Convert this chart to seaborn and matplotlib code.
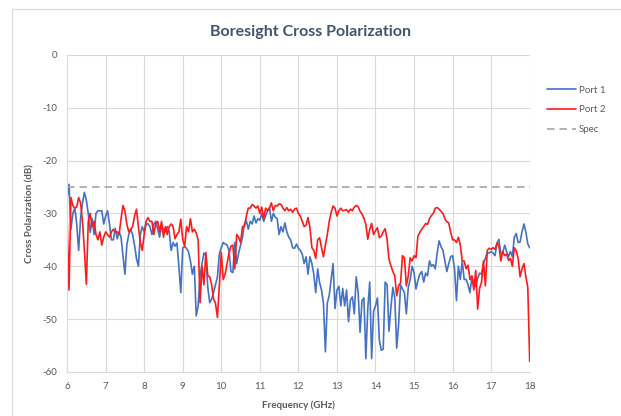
import numpy as np
import pandas as pd
import matplotlib
matplotlib.use("Agg")
import matplotlib.pyplot as plt
import seaborn as sns
from matplotlib.lines import Line2D

# frequency grid, 6 to 18 GHz in 0.05 GHz steps
freq = np.round(np.arange(6.0, 18.001, 0.05), 2)

# values (dB)
port1 = [
    -27, -24.5, -33, -30, -29, -32, -37, -31, -28, -26,
    -27.5, -30, -33.6, -31, -34, -30, -29.5, -29.5, -29.5, -32,
    -30.5, -29.5, -32, -35, -35, -32.8, -34.8, -33.5, -34.5, -38,
    -41.5, -36, -34, -33, -34, -36, -38.5, -40, -34, -32.5,
    -33.5, -32, -32, -32.5, -34, -32, -31.5, -33, -34.5, -32.5,
    -33, -33.5, -32.5, -33.5, -37, -35.5, -36.2, -35.6, -40, -45,
    -36.5, -36.3, -36.6, -37.3, -39, -41.5, -40, -49.4, -47.5, -41.8,
    -39.5, -37.5, -38, -44, -46.9, -46.2, -45, -43.5, -42, -37.7,
    -36.5, -35.5, -35.8, -36, -37, -41, -41.2, -35.5, -39.5, -37.5,
    -36, -34.5, -32, -31.4, -33, -31.5, -32, -30.5, -31.8, -31,
    -31.3, -30, -31.5, -30.5, -29.5, -28.9, -31.5, -30, -30.7, -31,
    -34, -32.5, -33.5, -31.8, -33.5, -34.5, -35, -36.5, -36.6, -35.8,
    -36.6, -37, -37.7, -39.5, -38.2, -41.5, -38.2, -39.5, -41.5, -45,
    -40.5, -43.1, -44.5, -47, -56.2, -47, -45.5, -42.5, -39.5, -48,
    -44.5, -43.8, -47.5, -44.2, -47.5, -44.5, -50.5, -46.4, -45.8, -49,
    -42, -45, -52.5, -46.5, -46, -57.5, -48, -43, -57.5, -48.5,
    -47.5, -46, -54, -55.9, -55.7, -43, -43.5, -52.3, -47.8, -44,
    -46, -55.5, -51, -43.5, -44.3, -45, -49, -44, -42.5, -40,
    -41.2, -44.3, -42.7, -41.5, -41, -43, -41.3, -41.8, -39, -40,
    -39.7, -40.5, -37.5, -35.2, -36.3, -37, -39, -41, -39.5, -38.2,
    -38, -40.5, -46.5, -40, -42.5, -39, -42.5, -42.5, -43.5, -45,
    -42, -43.5, -43.8, -42.3, -41.3, -41.5, -39.5, -38.5, -37.4, -37.5,
    -37.2, -37.5, -38, -35.8, -34.9, -37.5, -37.5, -36, -37.2, -38.2,
    -37.2, -38.2, -34.5, -33.8, -35.5, -35.4, -33.5, -32, -33.5, -35.8,
    -36.5,
]
port2 = [
    -30.8, -44.5, -27, -28.5, -29, -28.8, -27, -28, -31.5, -37,
    -43.4, -31.5, -30, -32.5, -31.5, -34, -35, -33.5, -36, -34.5,
    -33.5, -34, -34.5, -33.5, -33, -33.5, -33.5, -34, -31, -28.5,
    -29.5, -32, -33.5, -33, -32.5, -30.5, -29.2, -32.5, -35.5, -37,
    -34, -31.5, -30.8, -31.5, -31.5, -34, -32, -31.5, -33.5, -31.5,
    -34.5, -32.5, -34, -32.5, -32, -32.5, -34.8, -34, -33.5, -31.1,
    -35, -36.2, -32.5, -33.5, -31, -33.5, -33, -33.7, -35, -46.9,
    -40, -43.5, -37.4, -41.8, -42, -43.5, -46.2, -47, -49.7, -43.5,
    -37.4, -42.5, -41.5, -39.5, -37.5, -36.2, -36, -40.5, -34, -34.5,
    -35.5, -32.5, -32.5, -30.5, -29, -29, -28.3, -28.6, -29, -28.6,
    -30, -28.8, -31, -29, -29.5, -29, -28, -29.5, -28.5, -28.6,
    -28.2, -28.3, -29, -29.5, -28.9, -29.5, -29.2, -29.8, -29.2, -29,
    -30, -30.5, -31.5, -32.5, -32.2, -30.8, -32.7, -36.5, -37, -38.5,
    -35, -34.6, -36.5, -38.2, -36, -34, -31.5, -29.8, -28.6, -29,
    -30.5, -29.5, -29, -29.5, -29.4, -29.3, -29.8, -29.2, -29.5, -28.8,
    -28.5, -28.7, -29.6, -30.1, -30.9, -32.1, -34.9, -33, -31.9, -34,
    -33.3, -32.7, -34.6, -34.3, -33.5, -32.9, -34.9, -38.7, -39.9, -41,
    -41.8, -45.6, -43.7, -43.1, -38, -38.4, -43.7, -41.8, -38.4, -39,
    -38, -38.4, -34.3, -33.6, -33, -32.5, -31.9, -32.1, -31, -30.4,
    -30, -29, -28.9, -29.2, -29.6, -30, -31, -31.6, -31.8, -33.6,
    -35, -35, -35.5, -34.5, -36, -39, -39, -40.5, -39.8, -42.5,
    -41.8, -44.5, -40.8, -48.1, -44.2, -43, -39, -43.7, -37, -36.6,
    -36.8, -36.5, -36.8, -35.6, -36.1, -39, -37.2, -38, -37.7, -38.9,
    -38.5, -40, -36.5, -37.1, -38.5, -42, -40.5, -39.5, -42, -44,
    -58,
]
spec_level = -25

series_names = ["Port 1", "Port 2", "Spec"]
colors = {"Port 1": "#4472C4", "Port 2": "#FF1A1A", "Spec": "#A5A5A5"}

df = pd.concat([
    pd.DataFrame({"freq": freq, "db": port1, "series": "Port 1"}),
    pd.DataFrame({"freq": freq, "db": port2, "series": "Port 2"}),
    pd.DataFrame({"freq": freq, "db": [spec_level] * len(freq), "series": "Spec"}),
])

sns.set_theme(style="white")
plt.rcParams["font.family"] = ["Lato", "DejaVu Sans"]
plt.rcParams["axes.unicode_minus"] = False

fig = plt.figure(figsize=(6.21, 4.16), dpi=100)
ax = fig.add_axes([0.108, 0.106, 0.745, 0.762])

sns.lineplot(data=df, x="freq", y="db", hue="series", style="series",
             hue_order=series_names, style_order=series_names,
             palette=colors, dashes={"Port 1": "", "Port 2": "", "Spec": (4.5, 3)},
             estimator=None, linewidth=1.2, ax=ax)

ax.set_xlim(6, 18)
ax.set_ylim(-60, 0)
ax.set_xticks(range(6, 19))
ax.set_yticks(range(-60, 1, 10))
ax.grid(True, color="#D9D9D9", linewidth=0.8)
ax.set_axisbelow(True)
for s in ["top", "right"]:
    ax.spines[s].set_visible(False)
for s in ["left", "bottom"]:
    ax.spines[s].set_color("#D9D9D9")
    ax.spines[s].set_linewidth(0.8)
ax.tick_params(length=0, labelsize=7, colors="#595959", pad=7)

ax.set_xlabel("Frequency (GHz)", fontsize=7, fontweight="bold", color="#595959", labelpad=7)
ax.set_ylabel("Cross Polarization (dB)", fontsize=7, fontweight="bold", color="#595959", labelpad=6)
fig.suptitle("Boresight Cross Polarization", x=0.5, y=0.94, fontsize=11.5,
             fontweight="bold", color="#44546A")

handles = [Line2D([], [], color=colors["Port 1"], lw=1.2),
           Line2D([], [], color=colors["Port 2"], lw=1.2),
           Line2D([], [], color=colors["Spec"], lw=1.2, dashes=(4.5, 3))]
ax.legend(handles, series_names, loc="upper left", bbox_to_anchor=(0.866, 0.815),
          bbox_transform=fig.transFigure, frameon=False, fontsize=7,
          labelcolor="#595959", handlelength=3.0, handletextpad=0.3, labelspacing=1.1)

# chart area border like the original
fig.add_artist(Line2D([12 / 621, 12 / 621], [0, 1 - 9 / 416], transform=fig.transFigure,
                      color="#D9D9D9", lw=0.8))
fig.add_artist(Line2D([12 / 621, 1], [1 - 9 / 416, 1 - 9 / 416], transform=fig.transFigure,
                      color="#D9D9D9", lw=0.8))

fig.savefig("out.png", dpi=100)
